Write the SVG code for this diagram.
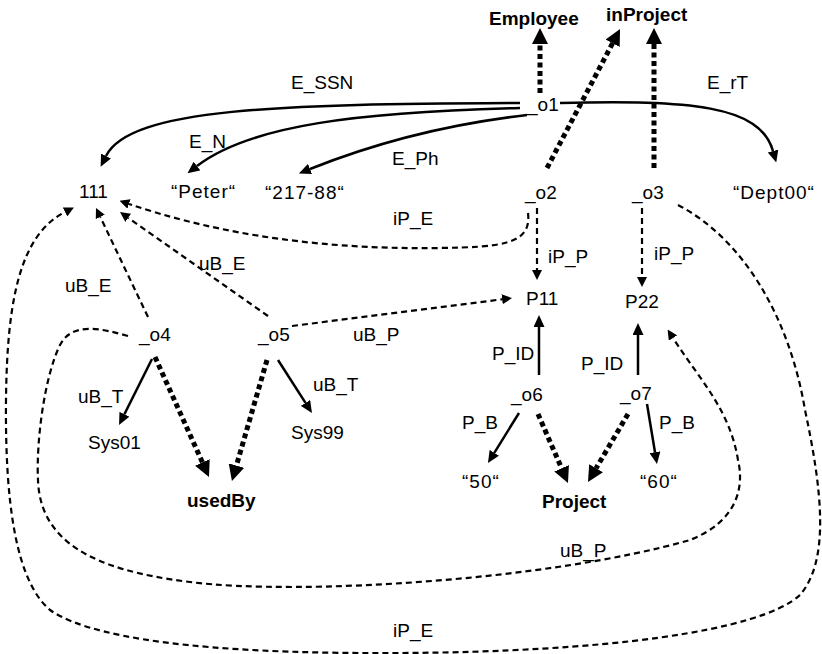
<svg xmlns="http://www.w3.org/2000/svg" width="822" height="654" viewBox="0 0 822 654">
<style>
text{font-family:"Liberation Sans",Arial,Helvetica,sans-serif;font-size:19px;fill:#000}
.b{font-weight:bold}
.q{letter-spacing:1px}
.s{fill:none;stroke:#000;stroke-width:2.5}
.d{fill:none;stroke:#000;stroke-width:2.2;stroke-dasharray:6 4}
.t{fill:none;stroke:#000;stroke-width:5;stroke-dasharray:5 3.5}
.s{marker-end:url(#ms)}
.d{marker-end:url(#md)}
.t{marker-end:url(#mt)}
</style>
<defs>
<marker id="ms" markerUnits="userSpaceOnUse" markerWidth="12" markerHeight="11" refX="0" refY="5.5" orient="auto"><path d="M0,0 L12,5.5 L0,11 z" fill="#000"/></marker>
<marker id="md" markerUnits="userSpaceOnUse" markerWidth="10" markerHeight="10" refX="0" refY="5" orient="auto"><path d="M0,0 L10,5 L0,10 z" fill="#000"/></marker>
<marker id="mt" markerUnits="userSpaceOnUse" markerWidth="16" markerHeight="16" refX="0" refY="8" orient="auto"><path d="M0,0 L16,8 L0,16 z" fill="#000"/></marker>
</defs>
<rect width="822" height="654" fill="#fff"/>
<g id="connectors">
<!-- type edges -->
<path class="t" d="M540,93 L540,44"/>
<path class="t" d="M547,168 L612.6,43.2"/>
<path class="t" d="M654,168 L654,44"/>
<path class="t" d="M155,357 L202.4,462.4"/>
<path class="t" d="M267,360 L236.4,465.6"/>
<path class="t" d="M538,414 L561.6,468.3"/>
<path class="t" d="M628,414 L596.1,468.2"/>
<!-- solid edges -->
<path class="s" d="M520,103 C280,104 130,108 106,156"/>
<path class="s" d="M520,108 C360,112 250,125 197,166"/>
<path class="s" d="M527,115 C440,125 370,145 310,169"/>
<path class="s" d="M560,103 C690,100 760,105 773,151"/>
<path class="s" d="M539,375 L539,327"/>
<path class="s" d="M638,375 L638,335"/>
<path class="s" d="M152,359 L124.4,414.3"/>
<path class="s" d="M278,360 L305.5,402.9"/>
<path class="s" d="M519,413 L494.3,452.8"/>
<path class="s" d="M647,404 L655,452.2"/>
<!-- dashed edges -->
<path class="d" d="M537,208 L537,270"/>
<path class="d" d="M642,208 L642,277"/>
<path class="d" d="M528,213 C532,245 500,247 440,248 C300,250 200,228 129,204"/>
<path class="d" d="M148,317 L100.3,217"/>
<path class="d" d="M268,316 L128.2,217.8"/>
<path class="d" d="M292,326 L502.1,299.3"/>
<path class="d" d="M128,336 C100,328 72,322 60,345 C45,375 36,440 38,480 C40,540 90,570 190,582 C300,596 550,580 690,540 C735,522 745,490 738,460 C730,410 700,380 673,338"/>
<path class="d" d="M678,205 C745,240 790,320 805,410 C822,490 830,560 800,595 C760,632 600,652 400,653 C250,654 100,645 50,610 C15,580 5,500 6,400 C7,300 20,235 65,212"/>
</g>
<g id="edge-labels">
<text x="291" y="89">E_SSN</text>
<text x="707" y="89">E_rT</text>
<text x="189" y="148">E_N</text>
<text x="392" y="165">E_Ph</text>
<text x="393" y="225">iP_E</text>
<text x="548" y="263">iP_P</text>
<text x="654" y="260">iP_P</text>
<text x="65" y="292">uB_E</text>
<text x="199" y="270">uB_E</text>
<text x="353" y="341">uB_P</text>
<text x="492" y="360">P_ID</text>
<text x="581" y="370">P_ID</text>
<text x="78" y="403">uB_T</text>
<text x="313" y="391">uB_T</text>
<text x="462" y="429">P_B</text>
<text x="659" y="429">P_B</text>
<text x="560" y="557">uB_P</text>
<text x="393" y="637">iP_E</text>
</g>
<g id="Employee"><text class="b" x="489" y="25">Employee</text></g>
<g id="inProject"><text class="b" x="606" y="21">inProject</text></g>
<g id="o1"><text x="527" y="111">_o1</text></g>
<g id="n111"><text x="79" y="198">111</text></g>
<g id="Peter"><text class="q" x="171" y="198">“Peter“</text></g>
<g id="n217-88"><text class="q" x="265" y="199">“217-88“</text></g>
<g id="o2"><text x="525" y="199">_o2</text></g>
<g id="o3"><text x="632" y="199">_o3</text></g>
<g id="Dept00"><text class="q" x="733" y="199">“Dept00“</text></g>
<g id="P11"><text x="526" y="305">P11</text></g>
<g id="P22"><text x="625" y="308">P22</text></g>
<g id="o4"><text x="139" y="341">_o4</text></g>
<g id="o5"><text x="258" y="341">_o5</text></g>
<g id="o6"><text x="511" y="401">_o6</text></g>
<g id="o7"><text x="620" y="400">_o7</text></g>
<g id="Sys01"><text x="88" y="449">Sys01</text></g>
<g id="Sys99"><text x="291" y="439">Sys99</text></g>
<g id="n50"><text class="q" x="462" y="488">“50“</text></g>
<g id="n60"><text class="q" x="640" y="488">“60“</text></g>
<g id="usedBy"><text class="b" x="187" y="507">usedBy</text></g>
<g id="Project"><text class="b" x="542" y="508">Project</text></g>
</svg>
